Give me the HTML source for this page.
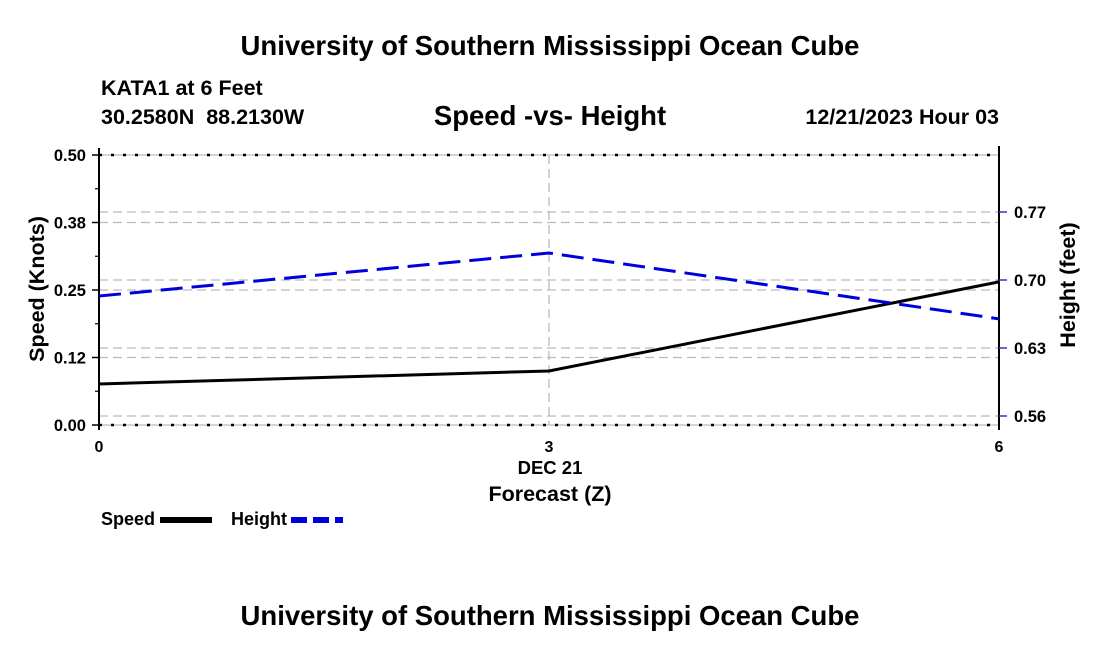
<!DOCTYPE html>
<html><head><meta charset="utf-8"><style>
body{margin:0;background:#fff;}
svg text{font-family:"Liberation Sans",Arial,sans-serif;font-weight:bold;fill:#000;white-space:pre;}
</style></head><body>
<svg id="c" width="1100" height="650" xmlns="http://www.w3.org/2000/svg">
<text x="550" y="55" font-size="27.5" text-anchor="middle">University of Southern Mississippi Ocean Cube</text>
<text x="101" y="95" font-size="21.5">KATA1 at 6 Feet</text>
<text x="101" y="124" font-size="21.5" xml:space="preserve">30.2580N  88.2130W</text>
<text x="550" y="125" font-size="27.5" text-anchor="middle">Speed -vs- Height</text>
<text x="999" y="124" font-size="21.5" text-anchor="end">12/21/2023 Hour 03</text>
<g id="grid"></g>
<g id="axes"></g>
<g id="series"></g>
<text x="550" y="474" font-size="18.5" text-anchor="middle">DEC 21</text>
<text x="550" y="501" font-size="21.5" text-anchor="middle">Forecast (Z)</text>
<text transform="translate(44,289) rotate(-90)" font-size="21.5" text-anchor="middle">Speed (Knots)</text>
<text transform="translate(1075,285) rotate(-90)" font-size="21.5" text-anchor="middle">Height (feet)</text>
<g>
<text x="101" y="525" font-size="18">Speed</text>
<line x1="160" y1="520" x2="212" y2="520" stroke="#000" stroke-width="6"/>
</g>
<g>
<text x="231" y="525" font-size="18">Height</text>
<line x1="291" y1="520" x2="343" y2="520" stroke="#0000dd" stroke-width="6" stroke-dasharray="16,6"/>
</g>
<text x="550" y="625" font-size="27.5" text-anchor="middle">University of Southern Mississippi Ocean Cube</text>
</svg>
<script>
const hours=[0,3,6];
const speed=[0.076,0.100,0.265];
const height=[0.6835,0.7278,0.660];
const leftTicks=[0,0.125,0.25,0.375,0.5];
const leftLabels=["0.00","0.12","0.25","0.38","0.50"];
const rightTicks=[0.56,0.63,0.70,0.77];
const rightLabels=["0.56","0.63","0.70","0.77"];
const xTicks=[0,3,6];

const X0=99,X1=999,Y0=425,Y1=155;
const NS="http://www.w3.org/2000/svg";
const xs=h=>X0+(h-0)/(6-0)*(X1-X0);
const ys=v=>Y0-(v/0.5)*(Y0-Y1);
const yh=v=>416-(v-0.56)/0.07*68;
function mk(t,a,p){const e=document.createElementNS(NS,t);for(const k in a)e.setAttribute(k,a[k]);p.appendChild(e);return e;}
const grid=document.getElementById('grid'),axes=document.getElementById('axes'),ser=document.getElementById('series');
const gd={stroke:"#bbb","stroke-width":1.3,"stroke-dasharray":"9,5"};
leftTicks.slice(1,4).forEach(v=>{const l=mk('line',Object.assign({x1:X0,x2:X1,y1:ys(v),y2:ys(v)},gd),grid);

});
rightTicks.forEach(v=>{const l=mk('line',Object.assign({x1:X0,x2:X1,y1:yh(v),y2:yh(v)},gd),grid);

});
const vg=mk('line',Object.assign({x1:xs(3),x2:xs(3),y1:Y1,y2:Y0},gd),grid);


[Y1,Y0].forEach(y=>{mk('line',{x1:X0,x2:X1,y1:y,y2:y,stroke:"#bbb","stroke-width":1.3},grid);
const d=mk('line',{x1:X0,x2:X1,y1:y,y2:y,stroke:"#000","stroke-width":2.5,"stroke-dasharray":"3,9"},grid);

});
const la=mk('line',{x1:X0,x2:X0,y1:148,y2:Y0+5,stroke:"#000","stroke-width":2},axes);


const ra=mk('line',{x1:X1,x2:X1,y1:146,y2:Y0+5,stroke:"#000","stroke-width":2},axes);


leftTicks.forEach((v,i)=>{mk('line',{x1:X0-7,x2:X0,y1:ys(v),y2:ys(v),stroke:"#000","stroke-width":1.5},axes);
if(i<4)mk('line',{x1:X0-4,x2:X0,y1:ys(v+0.0625),y2:ys(v+0.0625),stroke:"#000","stroke-width":1.2},axes);
const t=mk('text',{x:X0-13,y:ys(v)+6,"font-size":16.5,"text-anchor":"end"},axes);t.textContent=leftLabels[i];

});
rightTicks.forEach((v,i)=>{mk('line',{x1:X1,x2:X1+8,y1:yh(v),y2:yh(v),stroke:"#3333cc","stroke-width":1.5},axes);
const t=mk('text',{x:X1+15,y:yh(v)+6,"font-size":16.5},axes);t.textContent=rightLabels[i];

});
xTicks.forEach(h=>{const t=mk('text',{x:xs(h),y:452,"font-size":16,"text-anchor":"middle"},axes);t.textContent=h;

});
const sp=mk('polyline',{points:hours.map((h,i)=>xs(h)+','+ys(speed[i])).join(' '),fill:"none",stroke:"#000","stroke-width":3},ser);


const hp=mk('polyline',{points:hours.map((h,i)=>xs(h)+','+yh(height[i])).join(' '),fill:"none",stroke:"#0000dd","stroke-width":3,"stroke-dasharray":"22,9"},ser);


</script>
</body></html>
